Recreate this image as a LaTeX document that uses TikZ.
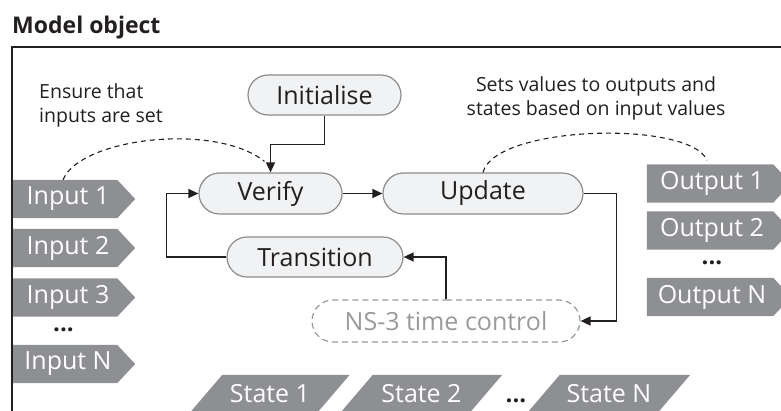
\documentclass[tikz,border=0pt]{standalone}
\usepackage{fontspec}
\setmainfont{Open Sans}
\usetikzlibrary{shapes.misc,arrows.meta}
\pgfdeclarelayer{background}
\pgfsetlayers{background,main}
\definecolor{ink}{HTML}{231F20}
\definecolor{nodefill}{HTML}{F1F2F3}
\definecolor{nodeline}{HTML}{8C8C8C}
\definecolor{tagfill}{HTML}{8E8F92}
\definecolor{faint}{HTML}{9A9A9A}
\begin{document}
\begin{tikzpicture}[x=1pt,y=-1pt,
  proc/.style={rounded rectangle, draw=nodeline, fill=nodefill, line width=1.2pt,
    text=ink, font=\fontsize{25}{29}\selectfont, inner sep=0pt},
  ghost/.style={proc, draw=faint, fill=white, text=faint, dashed, dash pattern=on 6pt off 4pt},
  tag/.style={rectangle, inner sep=0pt, minimum height=38pt, text=white,
    font=\fontsize{25}{29}\selectfont},
  dots/.style={inner sep=0pt, text=ink, font=\fontsize{24}{28}\selectfont\bfseries},
  arr/.style={draw=ink, line width=1.5pt, -{Triangle[length=10pt,width=9pt]}},
  note/.style={draw=ink, line width=1.1pt, dash pattern=on 5pt off 4pt},
  caption/.style={inner sep=0pt, text=ink, font=\fontsize{19.5}{24}\selectfont}]
\useasboundingbox (0,0) rectangle (781,410);

% frame and heading
\node[anchor=base west, inner sep=0pt, text=ink, font=\fontsize{23}{28}\selectfont\bfseries] (title) at (12,33) {Model object};
\draw[ink, line width=2pt] (12,420) -- (12,47) -- (790,47);

% annotations
\node[caption, anchor=north west, align=left] (note1) at (39,83.5) {Ensure that\\inputs are set};
\node[caption, anchor=north, align=center] (note2) at (596,76.5) {Sets values to outputs and\\states based on input values};

% process steps
\node[proc, minimum width=153pt, minimum height=40pt] (init) at (324.5,95) {Initialise};
\node[proc, minimum width=143pt, minimum height=41pt] (verify) at (270.5,193.5) {Verify};
\node[proc, minimum width=200pt, minimum height=41pt] (update) at (483,193.5) {Update};
\node[proc, minimum width=176pt, minimum height=40pt] (trans) at (315,257) {Transition};
\node[ghost, minimum width=268pt, minimum height=42pt] (ns3) at (446,321) {NS-3 time control};

% inputs
\node[tag, minimum width=112pt] (in1) at (68,199) {Input 1};
\node[tag, minimum width=112pt] (in2) at (68,248) {Input 2};
\node[tag, minimum width=112pt] (in3) at (68,297.5) {Input 3};
\node[dots] (indots) at (63.5,330) {...};
\node[tag, minimum width=112pt] (inN) at (68,364) {Input N};

% outputs
\node[tag, minimum width=130pt] (out1) at (712,183.5) {Output 1};
\node[tag, minimum width=130pt] (out2) at (712,230.5) {Output 2};
\node[dots] (outdots) at (712,263) {...};
\node[tag, minimum width=130pt] (outN) at (712,297) {Output N};

% states
\node[tag, minimum width=127pt, minimum height=37pt] (st1) at (270,393.5) {State 1};
\node[tag, minimum width=129pt, minimum height=37pt] (st2) at (421.5,393.5) {State 2};
\node[dots] (stdots) at (516,401) {...};
\node[tag, minimum width=130pt, minimum height=37pt] (stN) at (609,393.5) {State N};

% tag outlines behind their labels
\begin{pgfonlayer}{background}
  \foreach \n in {in1,in2,in3,inN}
    \fill[tagfill] (\n.north west) -- ([xshift=-7pt]\n.north east) -- ([xshift=11pt]\n.east)
      -- ([xshift=-7pt]\n.south east) -- (\n.south west) -- cycle;
  \foreach \n in {out1,out2,outN}
    \fill[tagfill] (\n.north west) -- ([xshift=-4pt]\n.north east) -- ([xshift=14pt]\n.east)
      -- ([xshift=-4pt]\n.south east) -- (\n.south west) -- cycle;
  \foreach \n in {st1,st2,stN}
    \fill[tagfill] ([xshift=16pt]\n.north west) -- ([xshift=16pt]\n.north east)
      -- ([xshift=-16pt]\n.south east) -- ([xshift=-16pt]\n.south west) -- cycle;
\end{pgfonlayer}

% control flow
\draw[arr] (init.south) -- ++(0,29) -| (verify.north);
\draw[arr] (verify.east) -- (update.west);
\draw[arr] (update.east) -- ++(33,0) |- (ns3.east);
\draw[arr] (ns3.north) |- (trans.east);
\draw[arr] (trans.west) -- ++(-60,0) |- (verify.west);

% annotation leaders
\coordinate (inTop) at ([xshift=-5pt]in1.north);
\coordinate (verTop) at ([xshift=-6pt,yshift=11pt]verify.north);
\coordinate (outTop) at ([xshift=-5pt,yshift=4pt]out1.north);
\draw[note] (inTop) .. controls (80,138) and (215,122) .. (verTop);
\draw[note] (update.north) .. controls (495,125) and (690,120) .. (outTop);
\end{tikzpicture}
\end{document}
